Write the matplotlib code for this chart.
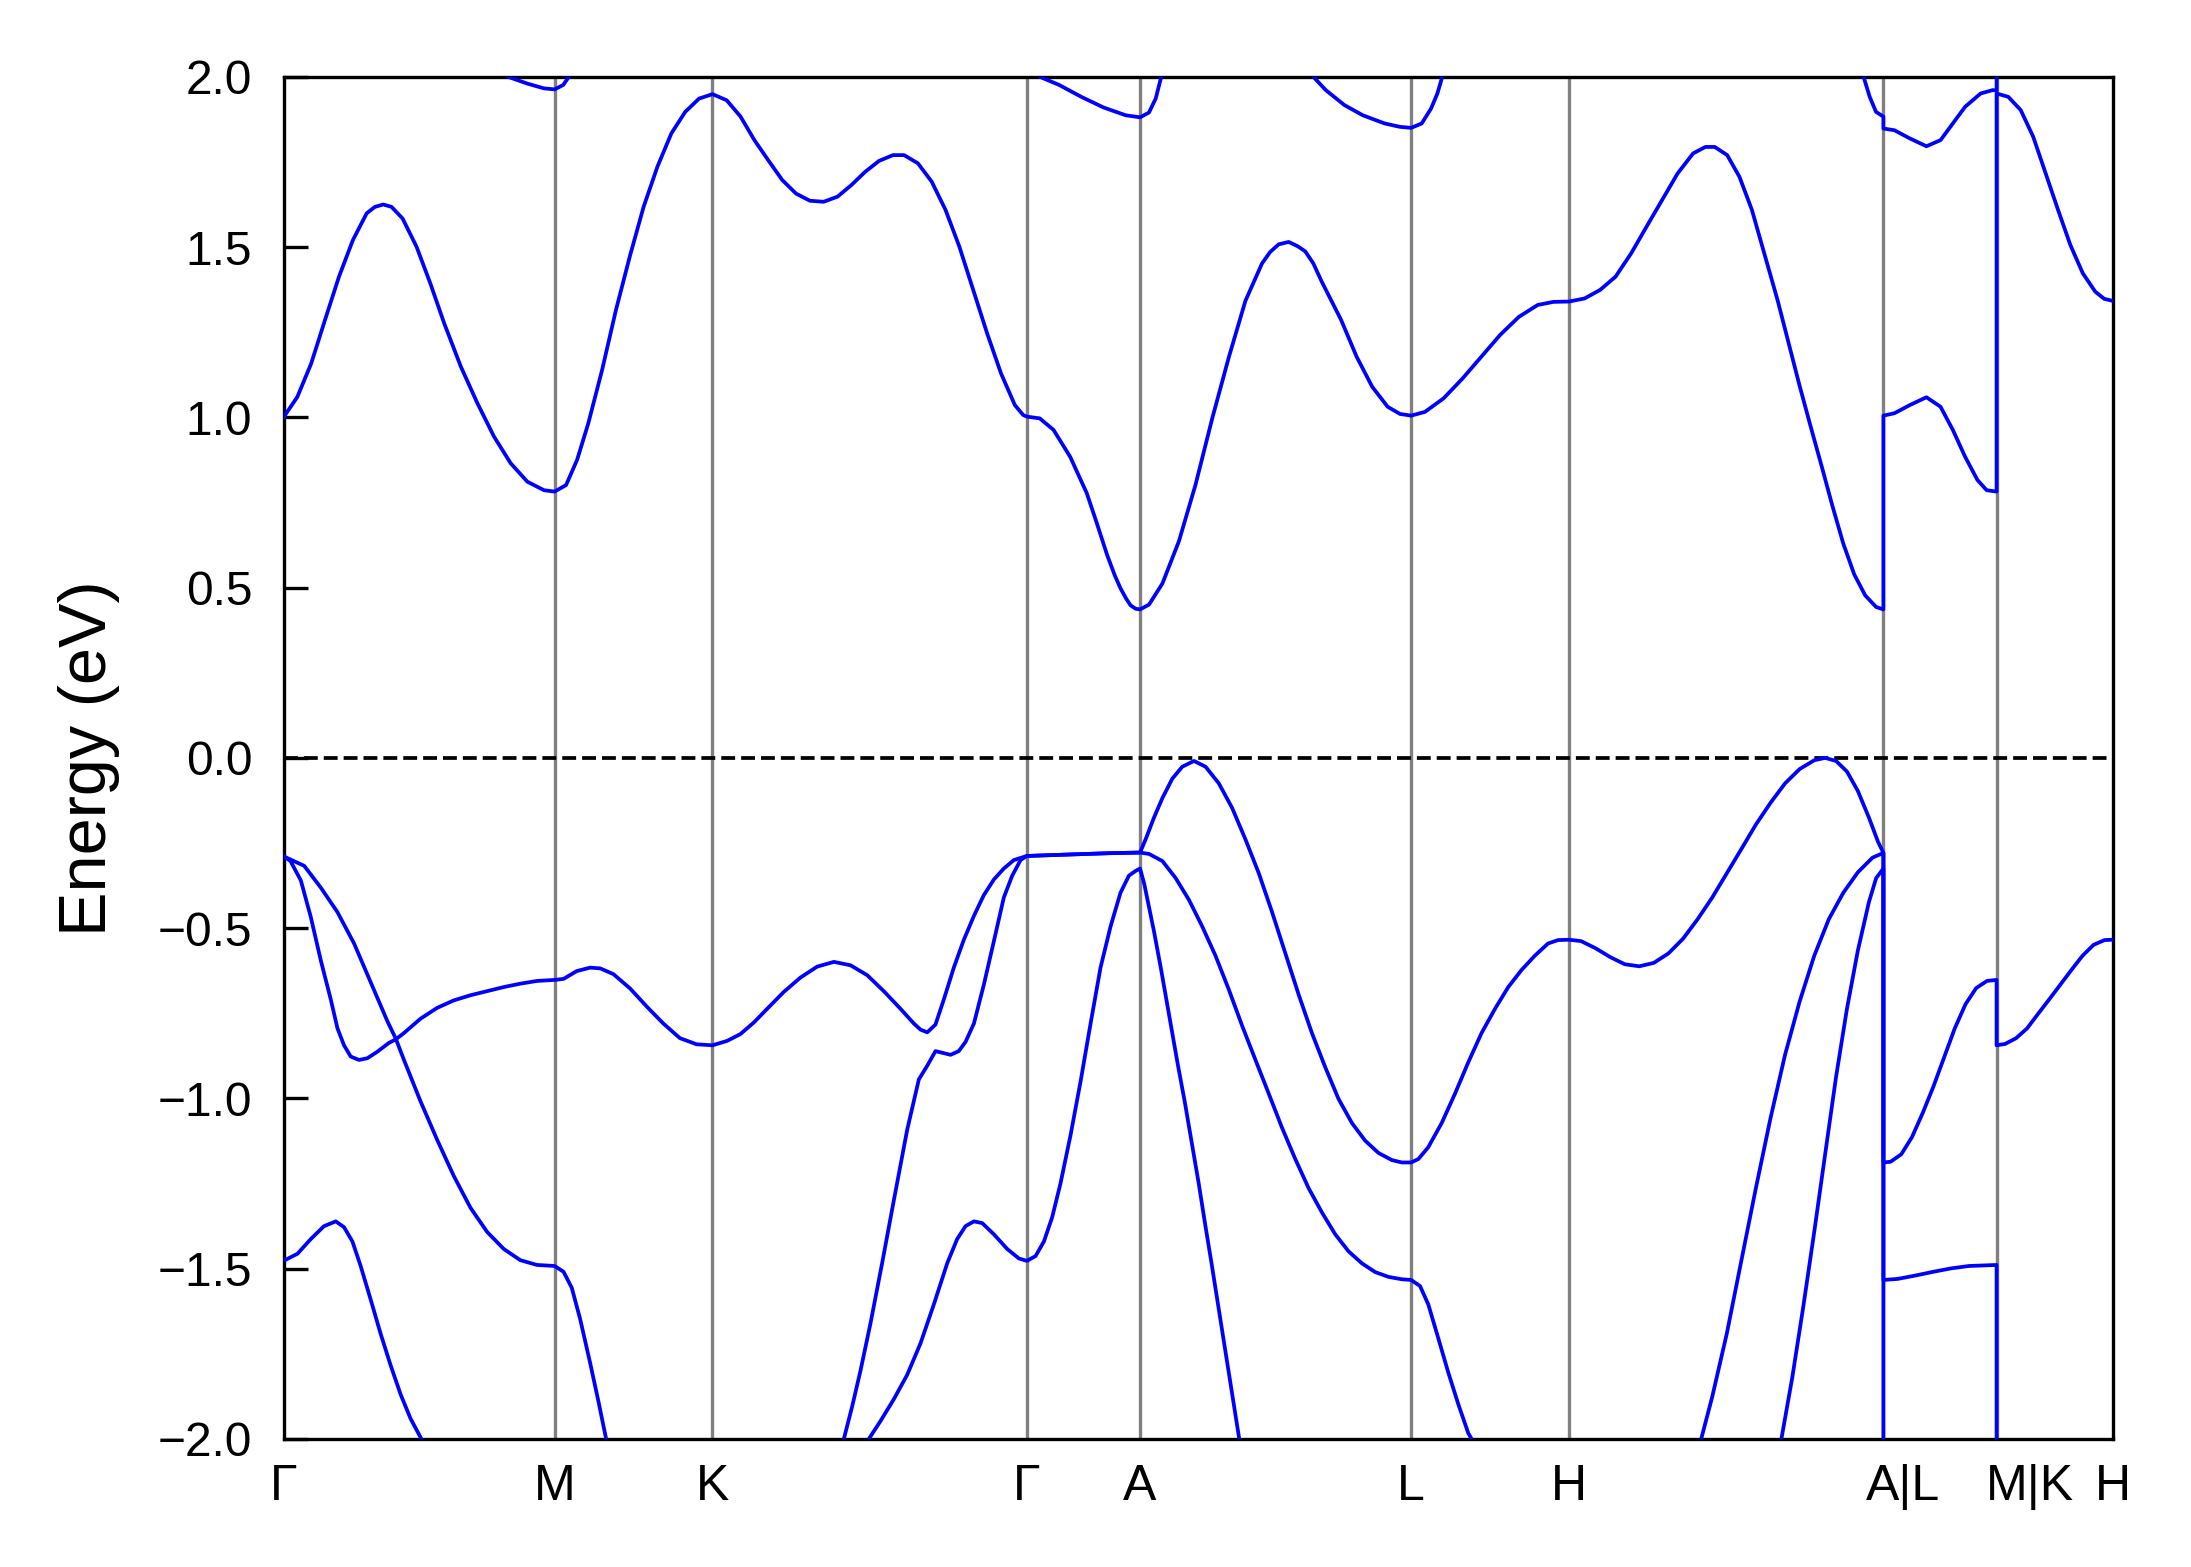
import numpy as np
import matplotlib
matplotlib.use('Agg')
import matplotlib.pyplot as plt

# high-symmetry path (position along path, label)
kpath_pos = [0, 194, 307, 532, 613, 807, 920, 1145, 1226, 1309]
kpath_labels = ['Γ', 'M', 'K', 'Γ', 'A', 'L', 'H', 'A|L', 'M|K', 'H']

# lowest conduction band
cb1_k = [0, 9.9, 19.8, 29.7, 39.7, 49.6, 59.5, 65.4, 71.4, 77.3, 85.2, 95.2,
         105.1, 115, 126.9, 138.8, 150.7, 162.6, 174.5, 186.4, 194,
         202.2, 210.1, 218.1, 228, 237.9, 247.8, 257.7, 267.6, 277.6, 287.5,
         297.4, 307,
         317.2, 327.1, 337, 346.9, 356.9, 366.8, 376.7, 386.6, 396.5, 406.4,
         416.3, 426.2, 436.2, 444.1, 454, 463.9, 473.8, 483.7, 493.6, 503.6,
         513.5, 523.4, 529.3, 532,
         541.2, 551.1, 563, 574.9, 582, 589.5, 595, 599, 603, 606.2, 609.8, 613,
         619.4, 629, 640.8, 652.7, 664.6, 676.5, 688.4, 700.3, 706, 712.2,
         719.4, 726, 731.3, 737, 743.2, 756.9, 768, 779.1, 790.2, 799, 807,
         816.9, 830.3, 843.8, 857.2, 870.7, 884.1, 897.6, 908.8, 920,
         931.1, 942.2, 953.3, 964.4, 975.5, 986.6, 997.7, 1008.8, 1017.6,
         1024.3, 1033.2, 1042, 1050.9, 1059.8, 1069.4, 1077.2, 1085, 1092.8,
         1100.7, 1108.5, 1116.3, 1124.1, 1132, 1139.8, 1145,
         1145, 1152.9, 1163.9, 1175.8, 1185.9, 1194.7, 1203.5, 1212.3, 1218.9,
         1226,
         1226, 1234.4, 1243.3, 1252.2, 1261.1, 1270, 1278.8, 1287.7, 1296.6,
         1303, 1309]
cb1_e = [1.0, 1.06, 1.158, 1.286, 1.413, 1.52, 1.599, 1.618, 1.625, 1.618,
         1.584, 1.501, 1.393, 1.276, 1.149, 1.041, 0.943, 0.865, 0.811, 0.786,
         0.782,
         0.801, 0.875, 0.982, 1.139, 1.315, 1.472, 1.618, 1.736, 1.834, 1.897,
         1.936, 1.949,
         1.931, 1.883, 1.814, 1.755, 1.697, 1.657, 1.636, 1.633, 1.648, 1.682,
         1.721, 1.753, 1.77, 1.77, 1.746, 1.692, 1.609, 1.501, 1.374, 1.246,
         1.129, 1.036, 1.007, 1.002,
         0.997, 0.963, 0.884, 0.777, 0.69, 0.595, 0.535, 0.498, 0.468, 0.448,
         0.438, 0.436,
         0.45, 0.512, 0.636, 0.802, 0.996, 1.176, 1.342, 1.452, 1.485, 1.508,
         1.515, 1.502, 1.487, 1.452, 1.397, 1.286, 1.178, 1.09, 1.031, 1.01,
         1.005,
         1.016, 1.056, 1.114, 1.178, 1.242, 1.295, 1.33, 1.339, 1.34,
         1.349, 1.374, 1.413, 1.481, 1.56, 1.638, 1.716, 1.775, 1.794,
         1.794, 1.77, 1.706, 1.609, 1.48, 1.342, 1.217, 1.093, 0.975,
         0.858, 0.74, 0.629, 0.539, 0.477, 0.443, 0.436,
         1.005, 1.012, 1.036, 1.059, 1.031, 0.963, 0.884, 0.816, 0.786,
         0.782,
         1.951, 1.941, 1.902, 1.824, 1.716, 1.609, 1.506, 1.423, 1.369,
         1.348, 1.342]

# second conduction band (mostly above the window)
cb2_k = [120, 160.6, 174.5, 186.4, 194, 200.2, 204.2, 208,
         536, 541.2, 555.1, 571, 586.8, 602.7, 613, 619.4, 624.2, 627.8, 631,
         733, 737, 745.9, 759.2, 772.4, 788, 799, 807, 814.6, 821.3, 825.8,
         829.3, 832,
         1128, 1130.8, 1135.2, 1139.7, 1145,
         1145, 1152.9, 1163.9, 1175.8, 1185.9, 1194.7, 1203.5, 1214.6, 1223.4,
         1226, 1226, 1309]
cb2_e = [2.1, 2.0, 1.98, 1.966, 1.963, 1.976, 2.0, 2.1,
         2.1, 2.0, 1.976, 1.941, 1.91, 1.887, 1.881, 1.895, 1.936, 1.994, 2.1,
         2.1, 2.0, 1.961, 1.917, 1.887, 1.863, 1.853, 1.85, 1.863, 1.907,
         1.951, 2.0, 2.1,
         2.1, 2.0, 1.941, 1.897, 1.883,
         1.848, 1.843, 1.819, 1.796, 1.814, 1.863, 1.912, 1.951, 1.961,
         1.959, 2.1, 2.1]

# top valence band
vb1_k = [0, 5, 12.4, 19.5, 26.7, 33.8, 38.6, 43.3, 48.1, 54, 60, 67.1, 75.4,
         80.2, 86.2, 98, 110, 121.9, 133.8, 145.7, 157.6, 169.5, 181.4, 194,
         200.4, 209.9, 219.4, 226.6, 236.1, 248, 259.9, 271.8, 283.7, 295.6, 307,
         317.5, 327, 336.6, 346.1, 358.1, 370, 381.9, 393.9, 405.8, 417.7,
         429.6, 441.6, 451.1, 455.9, 460.7, 466.6, 472.6, 479.7, 486.9, 494.1,
         501.2, 508.4, 515.5, 522.7, 532,
         560, 590, 613,
         617, 623, 629, 636.1, 643.2, 651.6, 659.9, 669.4, 678.9, 688.4, 698,
         707.5, 717, 726.5, 736, 745.5, 755, 764.6, 774.1, 783.6, 793.2, 800.3,
         807,
         812.2, 819.3, 828.9, 838.4, 847.9, 857.4, 867, 876.5, 886, 895.5, 905,
         912.2, 920,
         928.6, 939, 949.5, 959.9, 970.3, 980.7, 991.2, 1001.6, 1012, 1022.5,
         1032.9, 1043.3, 1053.7, 1064.2, 1074.6, 1085, 1095.5, 1103.3, 1111.1,
         1118.9, 1126.7, 1134.6, 1141.1, 1145,
         1145, 1150.1, 1157.8, 1165.4, 1173.1, 1180.8, 1188.4, 1196.1, 1203.8,
         1211.4, 1219.1, 1226,
         1226, 1232.1, 1240, 1247.9, 1255.8, 1263.7, 1271.6, 1279.5, 1287.5,
         1295.4, 1303.3, 1309]
vb1_e = [-0.289, -0.303, -0.36, -0.467, -0.595, -0.709, -0.794, -0.844, -0.877,
         -0.887, -0.882, -0.863, -0.837, -0.827, -0.808, -0.766, -0.734, -0.712,
         -0.697, -0.685, -0.673, -0.663, -0.655, -0.652,
         -0.649, -0.626, -0.616, -0.618, -0.635, -0.677, -0.73, -0.78, -0.823,
         -0.841, -0.844,
         -0.831, -0.811, -0.777, -0.737, -0.687, -0.645, -0.613, -0.599, -0.609,
         -0.638, -0.685, -0.737, -0.78, -0.798, -0.806, -0.783, -0.709, -0.616,
         -0.534, -0.464, -0.403, -0.357, -0.325, -0.3, -0.288,
         -0.284, -0.28, -0.278,
         -0.239, -0.175, -0.118, -0.061, -0.026, -0.009, -0.026, -0.075,
         -0.147, -0.239, -0.339, -0.453, -0.574, -0.695, -0.808, -0.908,
         -1.001, -1.072, -1.124, -1.16, -1.181, -1.188, -1.188,
         -1.178, -1.143, -1.072, -0.986, -0.894, -0.808, -0.737, -0.673,
         -0.623, -0.581, -0.545, -0.535, -0.534,
         -0.538, -0.559, -0.585, -0.606, -0.612, -0.602, -0.574, -0.531,
         -0.474, -0.41, -0.339, -0.268, -0.196, -0.132, -0.075, -0.033,
         -0.007, 0.0, -0.009, -0.04, -0.097, -0.175, -0.246, -0.279,
         -1.188, -1.186, -1.164, -1.114, -1.043, -0.965, -0.88, -0.794, -0.723,
         -0.676, -0.655, -0.652,
         -0.844, -0.84, -0.823, -0.794, -0.751, -0.709, -0.666, -0.623, -0.581,
         -0.549, -0.535, -0.534]

# second valence band
vb2_k = [0, 14.8, 26.7, 38.6, 50.5, 62.4, 74.3, 80.2, 86.2, 98, 110, 121.9,
         133.8, 145.7, 157.6, 169.5, 181.4, 194,
         200.4, 206.3, 212.3, 219.4, 225.4, 230.9, 234,
         397, 401, 407, 413, 420, 428.4, 436.8, 446.3, 454.7, 460.7, 466.6,
         477.4, 483.3, 488.1, 494.1, 501.2, 508.4, 515.5, 521.5, 527.5, 532,
         560, 590, 613,
         619.4, 629, 638.5, 648, 657.5, 667, 676.5, 686.1, 695.6, 705.1, 714.6,
         724.1, 733.7, 743.2, 752.7, 762.2, 771.7, 781.3, 790.8, 800.3, 807,
         813.4, 819.3, 826.5, 833.6, 840.7, 847.9, 850.3, 853,
         1011, 1014.6, 1022.5, 1032.9, 1043.3, 1053.7, 1064.2, 1074.6, 1085,
         1095.5, 1105.9, 1116.3, 1126.7, 1137.2, 1145,
         1145, 1155.2, 1168, 1180.8, 1193.5, 1206.3, 1226,
         1226, 1309]
vb2_e = [-0.289, -0.317, -0.381, -0.453, -0.545, -0.659, -0.773, -0.823,
         -0.887, -1.008, -1.122, -1.228, -1.321, -1.392, -1.442, -1.475,
         -1.489, -1.492,
         -1.509, -1.556, -1.648, -1.776, -1.89, -2.0, -2.1,
         -2.1, -2.0, -1.904, -1.798, -1.662, -1.484, -1.299, -1.093, -0.944,
         -0.904, -0.861, -0.872, -0.861, -0.834, -0.78, -0.666, -0.538, -0.41,
         -0.346, -0.3, -0.288,
         -0.284, -0.28, -0.278,
         -0.282, -0.303, -0.353, -0.417, -0.495, -0.581, -0.68, -0.787, -0.887,
         -0.986, -1.086, -1.178, -1.264, -1.335, -1.399, -1.449, -1.484, -1.51,
         -1.524, -1.531, -1.533,
         -1.551, -1.605, -1.705, -1.805, -1.897, -1.983, -2.0, -2.1,
         -2.1, -2.0, -1.876, -1.691, -1.477, -1.264, -1.058, -0.872, -0.716,
         -0.581, -0.474, -0.396, -0.336, -0.293, -0.279,
         -1.533, -1.53, -1.52, -1.509, -1.499, -1.492, -1.489,
         -2.1, -2.1]

# third valence band
vb3_k = [0, 10, 19.5, 29, 37.4, 43.3, 49.3, 55.2, 62.4, 69.5, 76.6, 83.8,
         90.9, 99.2, 102,
         416, 418.9, 427.3, 436.8, 446.3, 455.9, 465.4, 475, 482.1, 488.1,
         494.1, 500, 508.4, 517.9, 526.3, 532,
         538.2, 544.2, 550.1, 556.1, 563.3, 570.4, 577.6, 584.7, 591.9, 599,
         605, 609.8, 613,
         616, 619, 623, 628, 634, 640, 645, 650, 655, 660, 664, 669, 674, 679,
         684, 687,
         1069, 1072, 1079.8, 1087.6, 1095.5, 1103.3, 1111.1, 1118.9, 1126.7,
         1134.6, 1139.8, 1145,
         1145, 1309]
vb3_e = [-1.477, -1.456, -1.413, -1.375, -1.361, -1.378, -1.42, -1.492, -1.591,
         -1.691, -1.783, -1.869, -1.94, -2.004, -2.1,
         -2.1, -2.0, -1.947, -1.883, -1.812, -1.719, -1.605, -1.484, -1.413,
         -1.375, -1.361, -1.366, -1.399, -1.442, -1.47, -1.477,
         -1.463, -1.42, -1.349, -1.249, -1.107, -0.951, -0.78, -0.616, -0.495,
         -0.396, -0.346, -0.332, -0.325,
         -0.37, -0.43, -0.51, -0.62, -0.76, -0.9, -1.01, -1.13, -1.25, -1.38,
         -1.48, -1.61, -1.74, -1.87, -2.0, -2.1,
         -2.1, -2.0, -1.819, -1.613, -1.392, -1.164, -0.937, -0.737, -0.566,
         -0.424, -0.353, -0.325,
         -2.1, -2.1]

yticks = [-2.0, -1.5, -1.0, -0.5, 0.0, 0.5, 1.0, 1.5, 2.0]


def main():
    plt.rcParams['font.family'] = ['Liberation Sans', 'DejaVu Sans']
    fig = plt.figure(figsize=(2191 / 300, 1567 / 300), dpi=300)
    ax = fig.add_axes([0.1294, 0.0817, 0.8348, 0.8693])

    # high-symmetry lines and Fermi level
    for x in kpath_pos[1:-1]:
        ax.axvline(x, color='gray', lw=0.8, zorder=1)
    ax.axhline(0, color='k', ls='--', lw=0.9, zorder=2)

    bands = [(cb1_k, cb1_e), (cb2_k, cb2_e), (vb1_k, vb1_e),
             (vb2_k, vb2_e), (vb3_k, vb3_e)]
    for k, e in bands:
        ax.plot(k, e, color='blue', lw=0.9, zorder=3)

    ax.set_xlim(kpath_pos[0], kpath_pos[-1])
    ax.set_ylim(-2, 2)

    # the combined labels sit a little to the right of their lines
    label_pos = list(kpath_pos)
    label_pos[7] += 14
    label_pos[8] += 24
    ax.set_xticks(label_pos)
    ax.set_xticklabels(kpath_labels)
    ax.set_yticks(yticks)
    ax.tick_params(axis='x', length=0, pad=6, labelsize=12)
    ax.tick_params(axis='y', direction='in', length=5.8, width=0.8, pad=7.5,
                   labelsize=11.5)
    for s in ax.spines.values():
        s.set_linewidth(0.8)

    ax.set_ylabel('Energy (eV)', fontsize=16)
    ax.yaxis.set_label_coords(-0.0895, 0.5)

    fig.savefig('out.png', dpi=300)


if __name__ == "__main__":
    main()
